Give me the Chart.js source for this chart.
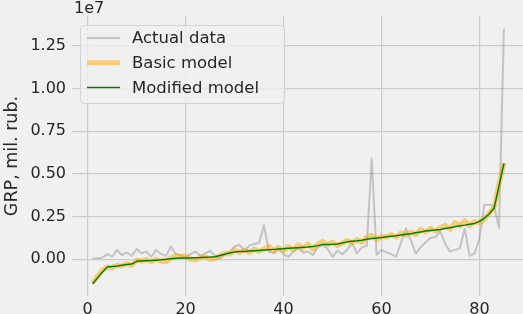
<!DOCTYPE html>
<html><head><meta charset="utf-8">
<script src="https://cdn.jsdelivr.net/npm/chart.js@4"></script>
<style>html,body{margin:0;padding:0;background:#f0f0f0;overflow:hidden;}</style>
</head><body>
<canvas id="c" width="523" height="314"></canvas>
<script>
// Region index (x axis)
const regionIndex = Array.from({length: 85}, (_, i) => i + 1);
// Values in units of 1e6 mil. rub. (axis shows 1e7 offset)
const actualData = [
  0.05, 0.05, 0.10, 0.30, 0.15, 0.55, 0.25, 0.40, 0.20, 0.60,
  0.35, 0.45, 0.15, 0.55, 0.30, 0.20, 0.75, 0.30, 0.25, 0.10,
  0.30, 0.45, 0.20, 0.35, 0.50, 0.20, 0.05, 0.30, 0.45, 0.75,
  0.85, 0.50, 0.80, 0.90, 0.95, 2.00, 0.45, 0.35, 0.60, 0.30,
  0.15, 0.45, 0.65, 0.40, 0.45, 0.25, 0.70, 0.85, 0.60, 0.15,
  0.50, 0.30, 0.55, 0.95, 0.35, 0.70, 0.80, 5.90, 0.25, 0.55,
  0.40, 0.30, 0.15, 1.00, 1.80, 1.10, 0.35, 0.70, 1.00, 1.25,
  1.30, 1.65, 0.90, 0.45, 0.55, 0.65, 1.80, 0.20, 0.35, 1.20,
  3.20, 3.20, 3.10, 1.85, 13.50
];
const basicModel = [
  -1.40, -1.00, -0.65, -0.45, -0.50, -0.35, -0.40, -0.25, -0.35, -0.05,
  -0.10, 0.00, -0.15, 0.00, -0.10, -0.15, 0.10, 0.20, 0.15, 0.20,
  0.00, -0.05, 0.10, 0.15, 0.00, 0.05, 0.20, 0.35, 0.30, 0.55,
  0.40, 0.55, 0.40, 0.60, 0.45, 0.60, 0.75, 0.50, 0.70, 0.50,
  0.75, 0.55, 0.85, 0.65, 0.90, 0.60, 0.90, 1.05, 0.85, 1.00,
  0.80, 0.95, 1.10, 0.95, 1.15, 1.00, 1.30, 1.40, 1.15, 1.35,
  1.30, 1.45, 1.30, 1.55, 1.40, 1.60, 1.45, 1.75, 1.60, 1.80,
  1.65, 1.85, 2.00, 1.75, 2.15, 1.95, 2.25, 1.95, 2.20, 2.15,
  2.35, 2.70, 3.05, 4.40, 5.65
];
const modifiedModel = [
  -1.43, -1.10, -0.75, -0.45, -0.42, -0.40, -0.35, -0.30, -0.28, -0.12,
  -0.10, -0.08, -0.07, -0.05, -0.03, 0.00, 0.03, 0.06, 0.07, 0.07,
  0.08, 0.09, 0.10, 0.12, 0.13, 0.15, 0.22, 0.30, 0.37, 0.43,
  0.45, 0.46, 0.48, 0.50, 0.52, 0.54, 0.56, 0.58, 0.60, 0.62,
  0.64, 0.66, 0.68, 0.70, 0.72, 0.75, 0.80, 0.86, 0.87, 0.88,
  0.90, 0.95, 1.02, 1.05, 1.08, 1.12, 1.17, 1.21, 1.25, 1.28,
  1.32, 1.35, 1.38, 1.42, 1.46, 1.50, 1.55, 1.60, 1.65, 1.68,
  1.71, 1.75, 1.80, 1.85, 1.90, 1.96, 2.00, 2.05, 2.10, 2.22,
  2.40, 2.65, 3.00, 4.30, 5.60
];
const seriesNames = ['Actual data', 'Basic model', 'Modified model'];
const xTickValues = [0, 20, 40, 60, 80];
const yTickValues = [0, 2.5, 5, 7.5, 10, 12.5];
const yTickLabels = ['0.00', '0.25', '0.50', '0.75', '1.00', '1.25'];
const offsetLabel = '1e7';
const yAxisTitle = 'GRP, mil. rub.';

const pts = arr => arr.map((v, i) => ({x: regionIndex[i], y: v}));
const FONT = 'DejaVu Sans';
const TXT = '#262626';

const bgPlugin = {
  id: 'bg',
  beforeDraw(chart) {
    const ctx = chart.ctx;
    ctx.save();
    ctx.fillStyle = '#f0f0f0';
    ctx.fillRect(0, 0, chart.width, chart.height);
    ctx.restore();
  }
};

const extrasPlugin = {
  id: 'extras',
  afterDraw(chart) {
    const ctx = chart.ctx;
    const a = chart.chartArea;
    ctx.save();
    // offset text
    ctx.font = '16px "' + FONT + '"';
    ctx.fillStyle = TXT;
    ctx.textBaseline = 'middle';
    ctx.textAlign = 'left';
    ctx.fillText(offsetLabel, a.left + 2, 9);
    // legend
    const bx = a.left + 8, by = 25, bw = 204, bh = 78;
    ctx.beginPath();
    if (ctx.roundRect) ctx.roundRect(bx + 0.5, by + 0.5, bw, bh, 4); else ctx.rect(bx + 0.5, by + 0.5, bw, bh);
    ctx.fillStyle = 'rgba(240,240,240,0.8)';
    ctx.fill();
    ctx.strokeStyle = 'rgba(204,204,204,0.8)';
    ctx.lineWidth = 1;
    ctx.stroke();
    chart.data.datasets.forEach((ds, i) => {
      const y = 38 + i * 24.8;
      ctx.beginPath();
      ctx.moveTo(bx + 7, y);
      ctx.lineTo(bx + 40, y);
      ctx.strokeStyle = ds.borderColor;
      ctx.lineWidth = ds.borderWidth;
      ctx.lineCap = 'butt';
      ctx.stroke();
      ctx.fillStyle = TXT;
      ctx.font = '16.5px "' + FONT + '"';
      ctx.fillText(ds.label, bx + 52, y + 1);
    });
    ctx.restore();
  }
};

new Chart(document.getElementById('c'), {
  type: 'line',
  data: {
    datasets: [
      {label: seriesNames[0], data: pts(actualData), borderColor: 'rgba(128,128,128,0.4)', borderWidth: 2, order: 3},
      {label: seriesNames[1], data: pts(basicModel), borderColor: 'rgba(255,165,0,0.5)', borderWidth: 5, order: 2},
      {label: seriesNames[2], data: pts(modifiedModel), borderColor: 'green', borderWidth: 1.5, order: 1}
    ]
  },
  options: {
    responsive: false,
    animation: false,
    devicePixelRatio: 1,
    layout: {padding: {top: 16, left: 0, right: 0, bottom: 0}},
    elements: {
      point: {radius: 0},
      line: {tension: 0, borderJoinStyle: 'round', borderCapStyle: 'butt', fill: false}
    },
    plugins: {legend: {display: false}, tooltip: {enabled: false}},
    scales: {
      x: {
        type: 'linear', min: -3.2, max: 88.9,
        afterBuildTicks: s => { s.ticks = xTickValues.map(v => ({value: v})); },
        afterFit: s => { s.height = 18; },
        grid: {color: '#cbcbcb', lineWidth: 1.2, drawTicks: false},
        border: {display: false},
        ticks: {padding: 4, color: TXT, font: {family: FONT, size: 16}, maxRotation: 0,
          callback: v => String(v)}
      },
      y: {
        type: 'linear', min: -2.15, max: 14.245,
        afterBuildTicks: s => { s.ticks = yTickValues.map(v => ({value: v})); },
        afterFit: s => { s.width = 72; },
        grid: {color: '#cbcbcb', lineWidth: 1.2, drawTicks: false},
        border: {display: false},
        ticks: {padding: 6, color: TXT, font: {family: FONT, size: 16},
          callback: v => yTickLabels[yTickValues.indexOf(v)]},
        title: {display: true, text: yAxisTitle, color: TXT, font: {family: FONT, size: 17.5}, padding: {top: 2, bottom: 0}}
      }
    }
  },
  plugins: [bgPlugin, extrasPlugin]
});
</script>
</body></html>
